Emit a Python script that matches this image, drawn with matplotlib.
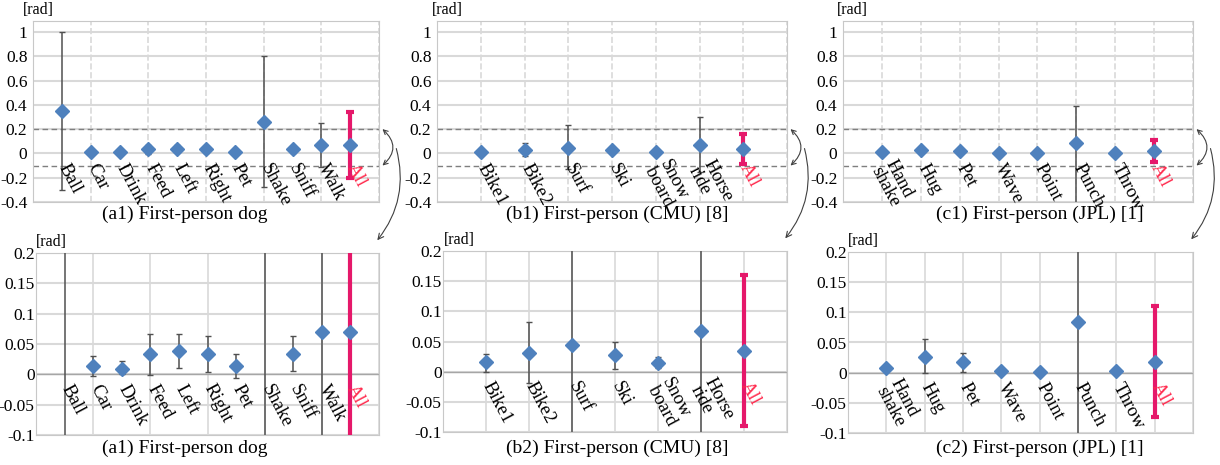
import matplotlib
matplotlib.use("Agg")
import matplotlib.pyplot as plt
from matplotlib.patches import ConnectionPatch
from matplotlib.ticker import FuncFormatter

plt.rcParams['font.family'] = ['Liberation Serif', 'DejaVu Serif']
plt.rcParams['axes.unicode_minus'] = False

# --- data (mean angle error and its lower / upper bound) ---
dog_cats = ['Ball', 'Car', 'Drink', 'Feed', 'Left', 'Right', 'Pet', 'Shake', 'Sniff', 'Walk', 'All']
dog_mean = [0.35, 0.013, 0.009, 0.033, 0.038, 0.033, 0.014, 0.26, 0.034, 0.069, 0.070]
dog_low = [-0.30, -0.003, 0.0, -0.001, 0.010, 0.004, -0.006, -0.28, 0.005, -0.11, -0.20]
dog_high = [1.00, 0.030, 0.022, 0.066, 0.066, 0.063, 0.034, 0.80, 0.064, 0.25, 0.34]

cmu_cats = ['Bike1', 'Bike2', 'Surf', 'Ski', 'Snow\nboard', 'Horse\nride', 'All']
cmu_mean = [0.0155, 0.031, 0.044, 0.027, 0.015, 0.067, 0.034]
cmu_low = [0.0, -0.019, -0.125, 0.004, 0.0065, -0.15, -0.09]
cmu_high = [0.029, 0.082, 0.23, 0.050, 0.025, 0.30, 0.16]

jpl_cats = ['Hand\nshake', 'Hug', 'Pet', 'Wave', 'Point', 'Punch', 'Throw', 'All']
jpl_mean = [0.0078, 0.0266, 0.0177, 0.0033, 0.0017, 0.0837, 0.0028, 0.0177]
jpl_low = [0.006, 0.0, 0.0017, 0.002, 0.001, -0.45, 0.002, -0.073]
jpl_high = [0.0095, 0.055, 0.033, 0.0046, 0.0024, 0.39, 0.0036, 0.110]

top_ticks = [-0.4, -0.2, 0, 0.2, 0.4, 0.6, 0.8, 1]
bot_ticks = [-0.1, -0.05, 0, 0.05, 0.1, 0.15, 0.2]
zoom_band = [0.2, -0.1]

titles_top = ['(a1) First-person dog', '(b1) First-person (CMU) [8]', '(c1) First-person (JPL) [1]']
titles_bot = ['(a1) First-person dog', '(b2) First-person (CMU) [8]', '(c2) First-person (JPL) [1]']

W, H = 1220, 465
BLUE = '#4f81bd'
PINK = '#e5186a'
RED = '#ff2a4d'
GRID = '#d9d9d9'


def box(l, t, r, b):
    return [l / W, 1 - b / H, (r - l) / W, (b - t) / H]


fig = plt.figure(figsize=(W / 100, H / 100), dpi=100)

top_boxes = [box(33, 21, 379, 202), box(437, 21, 787, 202), box(843, 21, 1193, 202)]
bot_boxes = [box(36, 253, 379, 435), box(443, 251, 787, 432), box(848, 252, 1193, 433)]
title_x = [185, 617, 1040]
rad_x_top = [0.015, 0.03, 0.026]
rad_x_bot = [0.044, 0.047, 0.044]
panels = [(dog_cats, dog_mean, dog_low, dog_high, 2),
          (cmu_cats, cmu_mean, cmu_low, cmu_high, 1),
          (jpl_cats, jpl_mean, jpl_low, jpl_high, 1)]


def draw(ax, cats, mean, low, high, step, top, radx):
    n = len(cats)
    x = list(range(n))
    ax.set_xlim(-1, n)
    if top:
        ax.set_ylim(-0.4, 1.09)
        ax.set_yticks(top_ticks)
    else:
        ax.set_ylim(-0.1, 0.2)
        ax.set_yticks(bot_ticks)
    ax.yaxis.set_major_formatter(FuncFormatter(lambda v, p: '%g' % round(v, 2)))
    ax.set_xticks(list(range(step - 1, n + 1, step)))
    ax.set_xticklabels([])
    ax.tick_params(length=0, labelsize=12.5, pad=4 if top else 1)
    ax.grid(True, axis='y', color=GRID, lw=1.5)
    ax.grid(True, axis='x', color=GRID, lw=1.2, ls='--' if top else '-')
    ax.set_axisbelow(True)
    for s in ax.spines.values():
        s.set_color('#c8c8c8')
    if not top:
        ax.axhline(0, color='#a6a6a6', lw=1, zorder=1)
    else:
        for yv in zoom_band:
            ax.axhline(yv, color='#7f7f7f', lw=1, ls=(0, (4, 2.5)), zorder=1)

    for i in x:
        is_all = cats[i] == 'All'
        err = [[mean[i] - low[i]], [high[i] - mean[i]]]
        ax.errorbar(i, mean[i], yerr=err, fmt='none',
                    ecolor=PINK if is_all else '#505050',
                    elinewidth=3 if is_all else 1.1,
                    capsize=3 if is_all else 2.5,
                    capthick=3 if is_all else 1, zorder=3)
    ax.plot(x, mean, ls='none', marker='D', ms=7, color=BLUE, zorder=4)

    for i in x:
        ax.annotate(cats[i], (i, 0), xytext=(0.5, -8), textcoords='offset points',
                    rotation=-62, rotation_mode='anchor', ha='left', va='center',
                    fontsize=13.5, color=RED if cats[i] == 'All' else 'black',
                    linespacing=0.95, annotation_clip=False)
    ax.text(radx, 1.015, '[rad]', transform=ax.transAxes, ha='center', va='bottom', fontsize=11.5)


axes_top, axes_bot = [], []
for k, (cats, mean, low, high, step) in enumerate(panels):
    at = fig.add_axes(top_boxes[k])
    draw(at, cats, mean, low, high, step, True, rad_x_top[k])
    ab = fig.add_axes(bot_boxes[k])
    draw(ab, cats, mean, low, high, step, False, rad_x_bot[k])
    axes_top.append(at)
    axes_bot.append(ab)
    fig.text(title_x[k] / W, 1 - 214 / H, titles_top[k], ha='center', va='center', fontsize=14)
    fig.text(title_x[k] / W, 1 - 448 / H, titles_bot[k], ha='center', va='center', fontsize=14)

# curved arrows linking the dashed band in each top panel to the zoomed panel below
for at, ab in zip(axes_top, axes_bot):
    ylo, yhi = at.get_ylim()
    f = lambda v: (v - ylo) / (yhi - ylo)
    arc = ConnectionPatch((1.01, f(0.2)), (1.01, f(-0.1)), coordsA=at.transAxes, coordsB=at.transAxes,
                          arrowstyle='<->', mutation_scale=8, color='#404040', lw=0.8,
                          connectionstyle='arc3,rad=-0.55')
    fig.add_artist(arc)
    link = ConnectionPatch((1.05, f(0.04)), (0.995, 1.07), coordsA=at.transAxes, coordsB=ab.transAxes,
                           arrowstyle='->', mutation_scale=10, color='#404040', lw=0.8,
                           connectionstyle='arc3,rad=-0.25')
    fig.add_artist(link)

fig.savefig('out.png', dpi=100)
